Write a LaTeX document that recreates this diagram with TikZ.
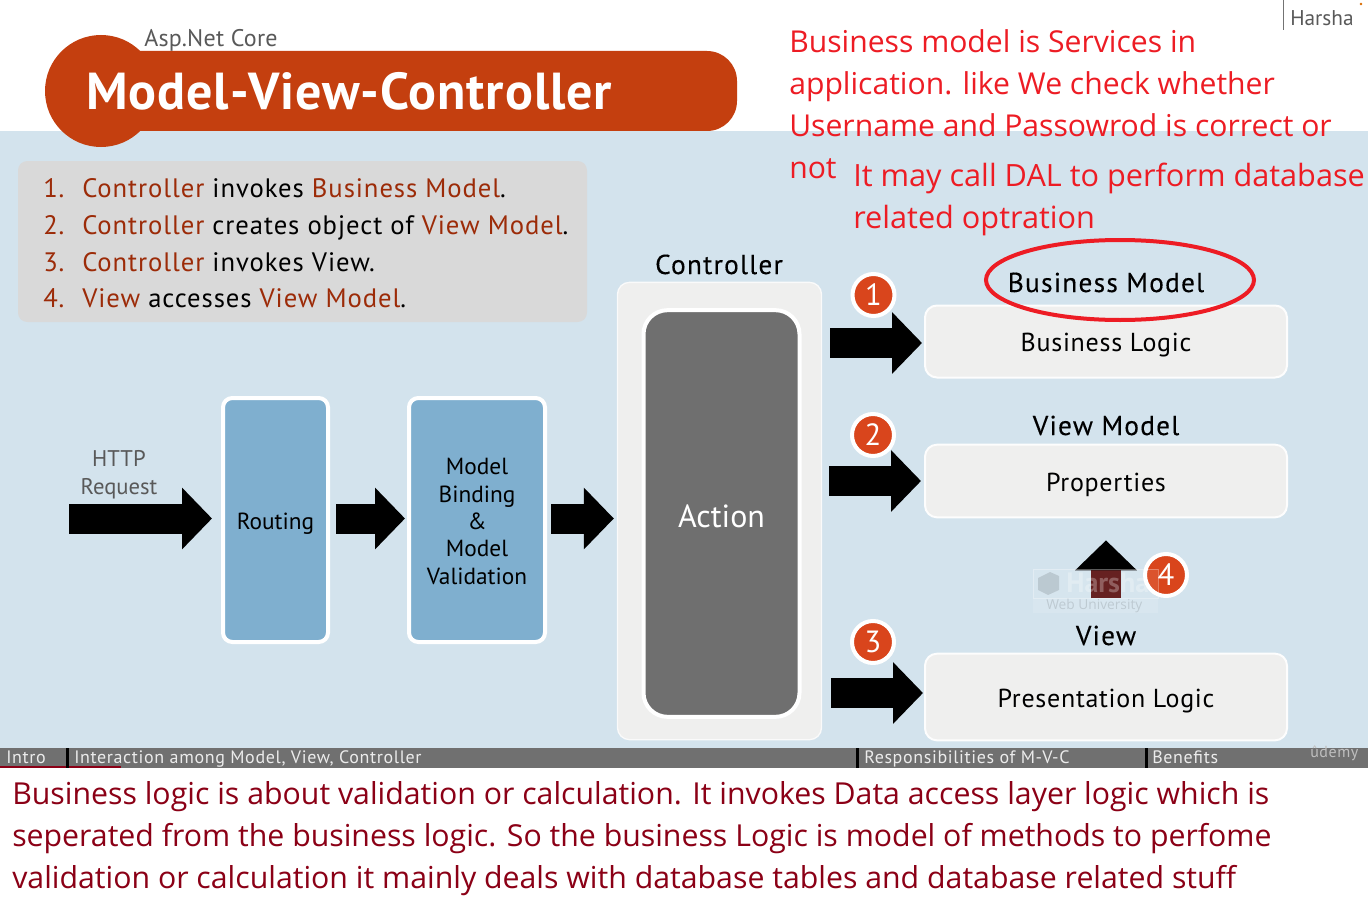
\documentclass[tikz,border=0pt]{standalone}
\usepackage{fontspec}
\usetikzlibrary{arrows.meta,calc}
\setmainfont{PT Sans}
\newfontfamily\seg{Open Sans}
\newfontfamily\din[LetterSpace=3.5]{PT Sans}
\newfontfamily\dinh[LetterSpace=4.5,FakeBold=0.25]{PT Sans}
\newfontfamily\dinc[LetterSpace=2.8]{PT Sans}
\newfontfamily\dint[LetterSpace=1.8]{PT Sans}
\def\u{0.75pt}
\newcommand\fs[2]{\fontsize{#1pt}{#2pt}\selectfont}
\definecolor{bgblue}{HTML}{D3E3ED}
\definecolor{brand}{HTML}{C43F0F}
\definecolor{hl}{HTML}{9C2B08}
\definecolor{badgefill}{HTML}{D9451C}
\definecolor{barg}{HTML}{707070}
\definecolor{routeblue}{HTML}{7FAFCF}
\definecolor{paneg}{HTML}{EFEFEE}
\definecolor{actiong}{HTML}{6F6F6F}
\definecolor{listg}{HTML}{D9D9D9}
\definecolor{annred}{HTML}{ED1C24}
\definecolor{annmar}{HTML}{8B0016}
\definecolor{marshaft}{HTML}{5A0F0F}
\tikzset{
  lbl/.style={inner sep=0pt,font=\din\fs{20}{24}},
  head/.style={inner sep=0pt,anchor=base,font=\dinh\fs{20.5}{24},text=black},
  card/.style={draw=white!90!paneg,line width=1.5pt,fill=paneg,rounded corners=9pt,inner sep=0pt,minimum width=273pt-1.5pt,text=black,font=\dinc\fs{19.5}{24},text height=15pt,text depth=0pt},
  stage/.style={draw=white,line width=3pt,fill=routeblue,rounded corners=7pt,inner sep=0pt,minimum height=183pt,align=center,font=\fs{17.5}{20.5}},
  blockarrow/.style={line width=22.5pt,line cap=butt,draw=black,-{Triangle[length=22.5pt,width=45pt]}},
  badge/.style={circle,draw=white,line width=3pt,fill=badgefill,text=white,inner sep=0pt,minimum size=31.5pt,font=\fs{23}{26}},
  ann/.style={inner sep=0pt,anchor=north west,align=left,text=annred,font=\seg\fs{22.6}{31.5}},
  barlbl/.style={inner sep=0pt,anchor=base west,text=white!92!black,font=\din\fs{13.5}{16}},
  barsep/.style={draw=black,line width=2.2pt},
}
\begin{document}
\begin{tikzpicture}[x=0.75pt,y=-0.75pt]
\useasboundingbox (0,0) rectangle (1368,906);
\fill[white] (0,0) rectangle (1368,906);
\fill[bgblue] (0,131) rectangle (1368,748);
\fill[barg] (0,748) rectangle (1368,768);
\fill[annmar] (0,766) rectangle (121,768);
\draw[barsep] (67.5,748) -- (67.5,768);
\draw[barsep] (857.5,748) -- (857.5,768);
\draw[barsep] (1146.5,748) -- (1146.5,768);
% title
\fill[brand] (101,91) circle[radius=56];
\fill[brand,rounded corners=22.5pt] (95,51) rectangle (737,131);
\node[inner sep=0pt,anchor=base west,text=white,font=\dint\bfseries\fs{39}{44}] (title) at (86,110) {Model-View-Controller};
\node[inner sep=0pt,anchor=base west,text=black!65,font=\fs{18}{22}] (asp) at (144,47) {\addfontfeature{LetterSpace=1}Asp.Net Core};
\draw[black!55,line width=0.8pt] (1283.5,0) -- (1283.5,30);
\node[inner sep=0pt,anchor=base west,text=black!65,font=\fs{16}{20}] (harsha) at (1290,26) {Harsha};
\fill[orange!85!black] (1361,4) circle[radius=1.3];
% list
\fill[listg,rounded corners=7pt] (18,161) rectangle (587,322);
\node[lbl,anchor=base west,text=hl] (n1) at (43,197) {1.};
\node[lbl,anchor=base west,text=hl] (n2) at (43,234) {2.};
\node[lbl,anchor=base west,text=hl] (n3) at (43,271) {3.};
\node[lbl,anchor=base west,text=hl] (n4) at (43,307) {4.};
\node[lbl,anchor=base west] (l1) at (82,197) {\textcolor{hl}{Controller} invokes \textcolor{hl}{Business Model}.};
\node[lbl,anchor=base west] (l2) at (82,234) {\textcolor{hl}{Controller} creates object of \textcolor{hl}{View Model}.};
\node[lbl,anchor=base west] (l3) at (82,271) {\textcolor{hl}{Controller} invokes View.};
\node[lbl,anchor=base west] (l4) at (82,307) {\textcolor{hl}{View} accesses \textcolor{hl}{View Model}.};
% pipeline
\coordinate (start) at (69,518.5);
\coordinate (ymid) at (0,518.5);
\coordinate (yA) at (0,343);
\coordinate (yB) at (0,481);
\coordinate (yC) at (0,693);
\node[inner sep=0pt,align=center,text=black!65,font=\fs{17}{21.2}] (http) at (119,474.5) {HTTP\\Request};
\node[stage,minimum width=78.75pt,text height=13.5pt,text depth=0pt] (routing) at (275.5,520) {Routing};
\node[stage,minimum width=102pt] (binding) at (477,520) {\rule{0pt}{14.5pt}Model\\Binding\\\&\\Model\\Validation};
\node[fill=paneg,draw=white!70!paneg,line width=1pt,rounded corners=9pt,inner sep=0pt,minimum width=153pt,minimum height=343pt] (ctrl) at (719.5,511) {};
\node[fill=actiong,draw=white,line width=3pt,rounded corners=18pt,inner sep=0pt,minimum width=117pt,minimum height=305pt,text=white,font=\fs{24}{28},text height=20.25pt,text depth=0pt] (action) at (721.5,513.5) {Action};
\node[head] (ctrlt) at (719,274) {Controller};
\draw[blockarrow] (start) -- (start -| routing.west) [shorten >=9*\u];
\draw[blockarrow,shorten <=6*\u,shorten >=2*\u] (ymid -| routing.east) -- (ymid -| binding.west);
\draw[blockarrow,shorten <=4*\u,shorten >=3*\u] (ymid -| binding.east) -- (ymid -| ctrl.west);
% right side
\node[card,minimum height=54pt] (bl) at (1106,341.5) {Business Logic};
\node[card,minimum height=54.5pt] (pr) at (1106,481) {Properties};
\node[card,minimum height=65pt] (pl) at (1106,697) {Presentation Logic};
\node[head] (blt) at (1106,292) {Business Model};
\node[head] (prt) at (1106,435) {View Model};
\node[head] (plt) at (1106,645) {View};
\draw[blockarrow,shorten <=8*\u,shorten >=2*\u] (yA -| ctrl.east) -- (yA -| bl.west);
\draw[blockarrow,shorten <=7*\u,shorten >=3*\u] (yB -| ctrl.east) -- (yB -| pr.west);
\draw[blockarrow,shorten <=9*\u,shorten >=1*\u] (yC -| ctrl.east) -- (yC -| pl.west);
\draw[line width=22.5pt,line cap=butt,draw=marshaft,shorten <=27*\u,shorten >=22*\u,-{Triangle[length=22.5pt,width=45pt,color=black]}] (plt.north) -- (pr.south);
\node[badge] (b1) at (873.5,295) {1};
\node[badge] (b2) at (873,435) {2};
\node[badge] (b3) at (873,642) {3};
\node[badge] (b4) at (1166,575) {4};
% watermark
\fill[white,opacity=.12] (1033,598) rectangle (1158,613);
\fill[white,opacity=.08] (1033,569) rectangle (1158,598);
\draw[white,opacity=.3,line width=.6pt] (1033,569) rectangle (1158,598);
\fill[black,opacity=.12] (1038,578) -- (1050,572) -- (1059,576) -- (1059,590) -- (1048,595) -- (1038,590) -- cycle;
\node[inner sep=0pt,anchor=base west,text=white,opacity=.28,font=\bfseries\fs{21}{24}] (wm1) at (1066,592) {Harsha};
\node[inner sep=0pt,anchor=base west,text=black,opacity=.12,font=\seg\fs{10.3}{12}] (wm2) at (1046,609) {Web University};
% ellipse
\draw[annred,line width=3pt] (1120,280) ellipse[x radius=134,y radius=40];
% annotations
\node[ann] (a1) at (789,29) {Business model is Services in\\application. like We check whether\\Username and Passowrod is correct or\\not};
\node[ann,font=\seg\fs{23}{31.5}] (a2) at (853,163) {It may call DAL to perform database\\related optration};
\node[ann,text=annmar,font=\seg\fs{22.7}{31.5}] (a3) at (12,781) {Business logic is about validation or calculation. It invokes Data access layer logic which is\\seperated from the business logic. So the business Logic is model of methods to perfome\\validation or calculation it mainly deals with database tables and database related stuff};
% bar labels
\node[barlbl] (s1) at (6,763) {Intro};
\node[barlbl] (s2) at (74,763) {Interaction among Model, View, Controller};
\node[barlbl] (s3) at (864,763) {Responsibilities of M-V-C};
\node[barlbl] (s4) at (1152,763) {Benefits};
\node[barlbl,text=white!75!black,font=\din\fs{12}{14}] (s5) at (1310,757) {ûdemy};
\end{tikzpicture}
\end{document}
